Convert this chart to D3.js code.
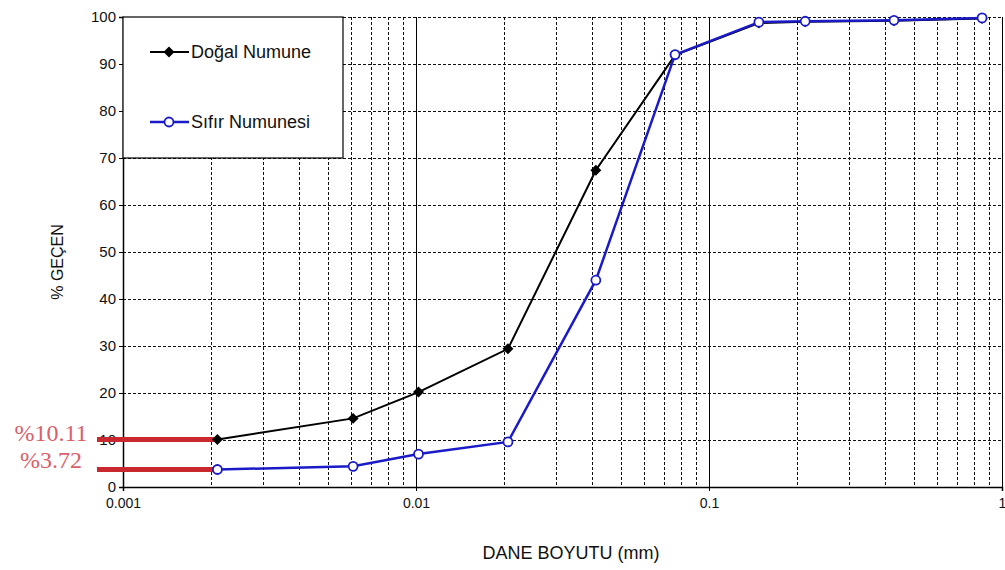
<!DOCTYPE html>
<html>
<head>
<meta charset="utf-8">
<script src="https://cdn.jsdelivr.net/npm/d3@7/dist/d3.min.js"></script>
<style>
  html, body { margin: 0; padding: 0; background: #fff; }
  svg { display: block; font-family: "Liberation Sans", Arial, sans-serif; }
</style>
</head>
<body>
<svg id="chart" width="1005" height="570"></svg>
<script>
// Grain size (mm) and percent passing for each sample
const grainSize = [0.0021, 0.0061, 0.0102, 0.0206, 0.0411, 0.0766, 0.148, 0.213, 0.428, 0.855];
const dogalValues = [10.11, 14.6, 20.2, 29.4, 67.4, 91.9, 98.7, 99.0, 99.2, 99.7];
const sifirValues = [3.72, 4.4, 7.0, 9.6, 44.0, 92.0, 98.9, 99.1, 99.3, 99.8];
const seriesNames = ["Doğal Numune", "Sıfır Numunesi"];
const xTickValues = [0.001, 0.01, 0.1, 1];
const xTickLabels = ["0.001", "0.01", "0.1", "1"];
const yTickValues = [0, 10, 20, 30, 40, 50, 60, 70, 80, 90, 100];
const markedValues = [10.11, 3.72];
const markedLabels = ["%10.11", "%3.72"];

const svg = d3.select("#chart");
const plotLeft = 123, plotRight = 1002, plotTop = 17, plotBottom = 487;

const x = d3.scaleLog().domain([0.001, 1]).range([plotLeft, plotRight]);
const y = d3.scaleLinear().domain([0, 100]).range([plotBottom, plotTop]);
const px = v => Math.round(v) + 0.5;

// Minor log grid (2..9 of each decade), dashed
const minor = [];
[0.001, 0.01, 0.1].forEach(d => { for (let k = 2; k <= 9; k++) minor.push(d * k); });

const grid = svg.append("g");
grid.selectAll("line.vminor").data(minor).enter().append("line")
  .attr("x1", d => px(x(d))).attr("x2", d => px(x(d)))
  .attr("y1", plotTop).attr("y2", plotBottom)
  .attr("stroke", "#111").attr("stroke-width", 1).attr("stroke-dasharray", "3,2");
grid.selectAll("line.vmajor").data([0.01, 0.1]).enter().append("line")
  .attr("x1", d => px(x(d))).attr("x2", d => px(x(d)))
  .attr("y1", plotTop).attr("y2", plotBottom)
  .attr("stroke", "#000").attr("stroke-width", 1);
grid.selectAll("line.h").data(yTickValues.filter(v => v > 0)).enter().append("line")
  .attr("x1", plotLeft).attr("x2", plotRight)
  .attr("y1", d => px(y(d))).attr("y2", d => px(y(d)))
  .attr("stroke", "#111").attr("stroke-width", 1).attr("stroke-dasharray", "3,2");

// Right border
svg.append("line").attr("x1", px(plotRight)).attr("x2", px(plotRight)).attr("y1", plotTop).attr("y2", plotBottom)
  .attr("stroke", "#000").attr("stroke-width", 1);

// Axes
const yAxis = d3.axisLeft(y).tickValues(yTickValues).tickSize(4).tickPadding(3);
const gy = svg.append("g").attr("transform", `translate(${plotLeft},0)`).call(yAxis);
gy.select(".domain").attr("stroke", "#000").attr("stroke-width", 1.5);
gy.selectAll("text").attr("font-size", 15).attr("fill", "#111")
  .attr("font-family", "Liberation Sans, Arial, sans-serif");

const xAxis = d3.axisBottom(x).tickValues(xTickValues)
  .tickFormat((d, i) => xTickLabels[i]).tickSize(4).tickPadding(7);
const gx = svg.append("g").attr("transform", `translate(0,${plotBottom})`).call(xAxis);
gx.select(".domain").attr("stroke", "#000").attr("stroke-width", 1.5);
gx.selectAll("text").attr("font-size", 14).attr("fill", "#111")
  .attr("font-family", "Liberation Sans, Arial, sans-serif");

// Axis titles
svg.append("text").attr("x", 571).attr("y", 559).attr("text-anchor", "middle")
  .attr("font-size", 18).attr("fill", "#111").text("DANE BOYUTU (mm)");
svg.append("text").attr("transform", "translate(63,262) rotate(-90)")
  .attr("text-anchor", "middle").attr("font-size", 16).attr("fill", "#111").text("%  GEÇEN");

// Legend box (covers the grid underneath)
const legend = svg.append("g");
legend.append("rect").attr("x", plotLeft).attr("y", plotTop).attr("width", 220).attr("height", y(70) - plotTop)
  .attr("fill", "#fff").attr("stroke", "#000").attr("stroke-width", 1.2);

// Red markers for the finest fraction
const firstX = x(grainSize[0]);
const labelShift = [1.5, -1.5];
svg.selectAll("line.mark").data(markedValues).enter().append("line")
  .attr("x1", 97).attr("x2", firstX)
  .attr("y1", d => y(d)).attr("y2", d => y(d))
  .attr("stroke", "#c8282e").attr("stroke-width", 5);
svg.selectAll("text.mark").data(markedValues).enter().append("text")
  .attr("x", 51).attr("y", (d, i) => y(d) + labelShift[i]).attr("text-anchor", "middle")
  .attr("font-family", "Liberation Serif, 'Times New Roman', serif")
  .attr("font-size", 24).attr("fill", "#d9606a")
  .text((d, i) => markedLabels[i]);

// Series lines
const line = d3.line().x(d => x(d[0])).y(d => y(d[1]));
const dogal = grainSize.map((g, i) => [g, dogalValues[i]]);
const sifir = grainSize.map((g, i) => [g, sifirValues[i]]);
const diamond = d3.symbol().type(d3.symbolSquare).size(60);

svg.append("path").datum(dogal).attr("d", line)
  .attr("fill", "none").attr("stroke", "#000").attr("stroke-width", 2);
svg.selectAll("path.diamond").data(dogal).enter().append("path")
  .attr("d", diamond)
  .attr("transform", d => `translate(${x(d[0])},${y(d[1])}) rotate(45)`)
  .attr("fill", "#000");

svg.append("path").datum(sifir).attr("d", line)
  .attr("fill", "none").attr("stroke", "#1a1ac8").attr("stroke-width", 2.5);
svg.selectAll("circle.pt").data(sifir).enter().append("circle")
  .attr("cx", d => x(d[0])).attr("cy", d => y(d[1])).attr("r", 4.5)
  .attr("fill", "#fff").attr("stroke", "#1a1ac8").attr("stroke-width", 1.8);

// Legend entries
const ly = [52, 122];
legend.append("line").attr("x1", 150).attr("x2", 189).attr("y1", ly[0]).attr("y2", ly[0])
  .attr("stroke", "#000").attr("stroke-width", 2);
legend.append("path").attr("d", diamond)
  .attr("transform", `translate(169,${ly[0]}) rotate(45)`).attr("fill", "#000");
legend.append("line").attr("x1", 150).attr("x2", 189).attr("y1", ly[1]).attr("y2", ly[1])
  .attr("stroke", "#1a1ac8").attr("stroke-width", 2.5);
legend.append("circle").attr("cx", 169).attr("cy", ly[1]).attr("r", 4.5)
  .attr("fill", "#fff").attr("stroke", "#1a1ac8").attr("stroke-width", 1.8);
legend.selectAll("text.lg").data(seriesNames).enter().append("text")
  .attr("x", 191).attr("y", (d, i) => ly[i] + 6)
  .attr("font-size", 18).attr("fill", "#111").text(d => d);
</script>
</body>
</html>
